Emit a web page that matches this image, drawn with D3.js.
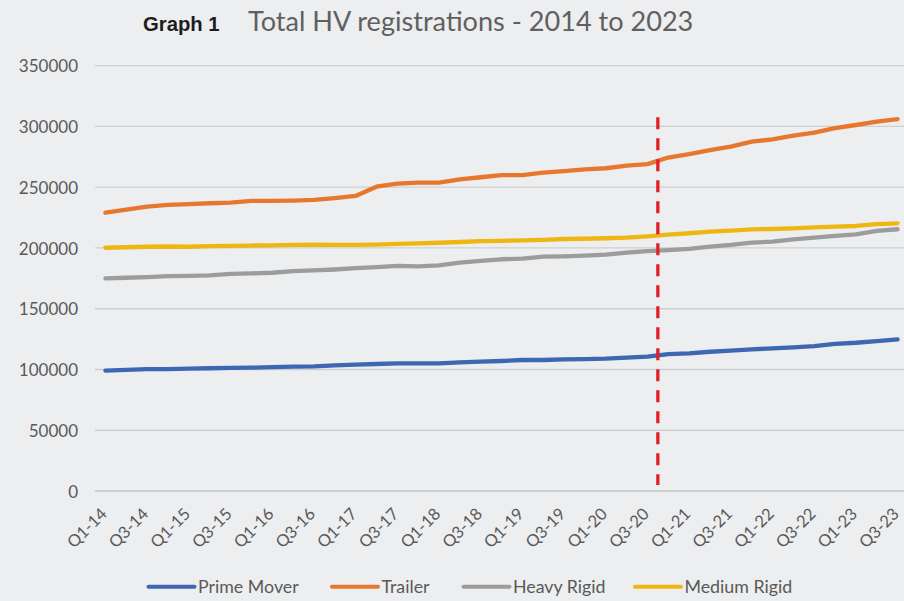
<!DOCTYPE html>
<html>
<head>
<meta charset="utf-8">
<script src="https://cdn.jsdelivr.net/npm/d3@7"></script>
<style>
  html, body { margin: 0; padding: 0; background: #edeef0; }
  svg { display: block; }
</style>
</head>
<body>
<svg id="chart" width="904" height="601"></svg>
<script>
// ---------- data ----------
const quarters = [
  "Q1-14","Q2-14","Q3-14","Q4-14","Q1-15","Q2-15","Q3-15","Q4-15",
  "Q1-16","Q2-16","Q3-16","Q4-16","Q1-17","Q2-17","Q3-17","Q4-17",
  "Q1-18","Q2-18","Q3-18","Q4-18","Q1-19","Q2-19","Q3-19","Q4-19",
  "Q1-20","Q2-20","Q3-20","Q4-20","Q1-21","Q2-21","Q3-21","Q4-21",
  "Q1-22","Q2-22","Q3-22","Q4-22","Q1-23","Q2-23","Q3-23"
];
const tickLabels = [
  "Q1-14","Q3-14","Q1-15","Q3-15","Q1-16","Q3-16","Q1-17","Q3-17","Q1-18","Q3-18",
  "Q1-19","Q3-19","Q1-20","Q3-20","Q1-21","Q3-21","Q1-22","Q3-22","Q1-23","Q3-23"
];
const yTicks = [0, 50000, 100000, 150000, 200000, 250000, 300000, 350000];

const primeMover = [
  99000, 99700, 100300, 100300, 100700, 101000, 101300, 101500,
  102000, 102300, 102600, 103400, 104000, 104500, 105000, 105100,
  105100, 105900, 106400, 107000, 107800, 107800, 108300, 108600,
  108900, 109700, 110500, 112700, 113300, 114600, 115500, 116600,
  117400, 118200, 119300, 121000, 122000, 123400, 124800
];
const trailer = [
  229000, 231500, 234000, 235400, 236000, 236800, 237300, 238700,
  238700, 239000, 239500, 241000, 242800, 250400, 253000, 253700,
  253700, 256500, 258200, 260000, 260000, 262000, 263300, 264700,
  265600, 267700, 269000, 274400, 277300, 280600, 283400, 287500,
  289400, 292400, 294900, 298700, 301200, 303900, 306100
];
const heavyRigid = [
  175000, 175500, 176000, 176800, 177000, 177500, 178600, 179100,
  179600, 181000, 181500, 182300, 183400, 184300, 185300, 184900,
  185700, 187900, 189300, 190700, 191200, 192800, 193100, 193700,
  194500, 196100, 197400, 198300, 199200, 201100, 202500, 204400,
  205200, 207100, 208500, 209900, 211200, 214000, 215400
];
const mediumRigid = [
  200200, 200600, 201000, 201200, 201000, 201500, 201800, 202000,
  202200, 202500, 202800, 202600, 202500, 202800, 203300, 203800,
  204300, 204900, 205700, 205900, 206300, 206700, 207400, 207600,
  208000, 208500, 209500, 211000, 212100, 213400, 214200, 215300,
  215600, 216200, 217000, 217500, 218100, 219700, 220300
];
const seriesNames = ["Prime Mover", "Trailer", "Heavy Rigid", "Medium Rigid"];
const seriesColors = ["#3d66b3", "#e8772e", "#9c9c9c", "#efb612"];
const seriesData = [primeMover, trailer, heavyRigid, mediumRigid];

// divider (red dashed) between these two quarters, spanning these values
const dividerBetween = ["Q3-20", "Q4-20"];
const dividerSpan = [5000, 307500];

const titleLead = "Graph 1";
const titleMain = "Total HV registrations - 2014 to 2023";

// ---------- layout ----------
const svg = d3.select("#chart");
const plotLeft = 95, plotRight = 908, plotTop = 65.7, plotBottom = 491;

const x = d3.scalePoint().domain(quarters).range([plotLeft, plotRight]).padding(0.5);
const y = d3.scaleLinear().domain([0, 350000]).range([plotBottom, plotTop]);

const textGrey = "#595959";

// title
svg.append("text").attr("x", 143).attr("y", 30.5)
  .attr("font-family", "Liberation Sans, Arial, sans-serif")
  .attr("font-weight", "bold").attr("font-size", 20.3).attr("fill", "#1d1d1d")
  .text(titleLead);
svg.append("text").attr("x", 248).attr("y", 31)
  .attr("font-family", "Lato, sans-serif").attr("font-weight", 400)
  .attr("font-size", 27.1).attr("fill", "#606060")
  .text(titleMain);

// gridlines
svg.append("g").selectAll("line").data(yTicks.filter(d => d > 0)).join("line")
  .attr("x1", plotLeft).attr("x2", 904)
  .attr("y1", d => y(d)).attr("y2", d => y(d))
  .attr("stroke", "#cfcfd1").attr("stroke-width", 1.3);

// y axis labels
const yAxis = d3.axisLeft(y).tickValues(yTicks).tickSize(0).tickPadding(0).tickFormat(d3.format("d"));
const gy = svg.append("g").attr("transform", `translate(${plotLeft - 17},0)`).call(yAxis);
gy.select(".domain").remove();
gy.selectAll("text").attr("font-family", "Lato, sans-serif").attr("font-size", 17)
  .attr("fill", textGrey).attr("dy", "0.36em");

// x axis line
svg.append("line").attr("x1", plotLeft).attr("x2", 904)
  .attr("y1", plotBottom).attr("y2", plotBottom)
  .attr("stroke", "#c4c4c6").attr("stroke-width", 1.3);

// x labels
const xAxis = d3.axisBottom(x).tickValues(tickLabels).tickSize(0).tickPadding(0);
const gx = svg.append("g").attr("transform", `translate(0,${plotBottom})`).call(xAxis);
gx.select(".domain").remove();
gx.selectAll(".tick text")
  .attr("font-family", "Lato, sans-serif").attr("font-size", 16.5).attr("fill", textGrey)
  .attr("text-anchor", "end").attr("dy", 0).attr("y", 0)
  .attr("transform", "translate(2,24) rotate(-45)");

// lines
const line = d3.line().x((d, i) => x(quarters[i])).y(d => y(d));
seriesData.forEach((s, k) => {
  svg.append("path").datum(s)
    .attr("fill", "none").attr("stroke", seriesColors[k])
    .attr("stroke-width", 4.3).attr("stroke-linejoin", "round").attr("stroke-linecap", "round")
    .attr("d", line);
});

// red dashed divider
const dx = (x(dividerBetween[0]) + x(dividerBetween[1])) / 2;
svg.append("line").attr("x1", dx).attr("x2", dx)
  .attr("y1", y(dividerSpan[1])).attr("y2", y(dividerSpan[0]))
  .attr("stroke", "#e21f26").attr("stroke-width", 3.3).attr("stroke-dasharray", "12,9");

// legend
const legendX = [148.5, 332, 463.5, 635];
const legendY = 586.7;
seriesNames.forEach((n, k) => {
  const g = svg.append("g");
  g.append("line").attr("x1", legendX[k]).attr("x2", legendX[k] + 46)
    .attr("y1", legendY).attr("y2", legendY)
    .attr("stroke", seriesColors[k]).attr("stroke-width", 4).attr("stroke-linecap", "round");
  g.append("text").attr("x", legendX[k] + 49.5).attr("y", legendY + 6)
    .attr("font-family", "Lato, sans-serif").attr("font-size", 17.8).attr("fill", textGrey)
    .text(n);
});
</script>
</body>
</html>
